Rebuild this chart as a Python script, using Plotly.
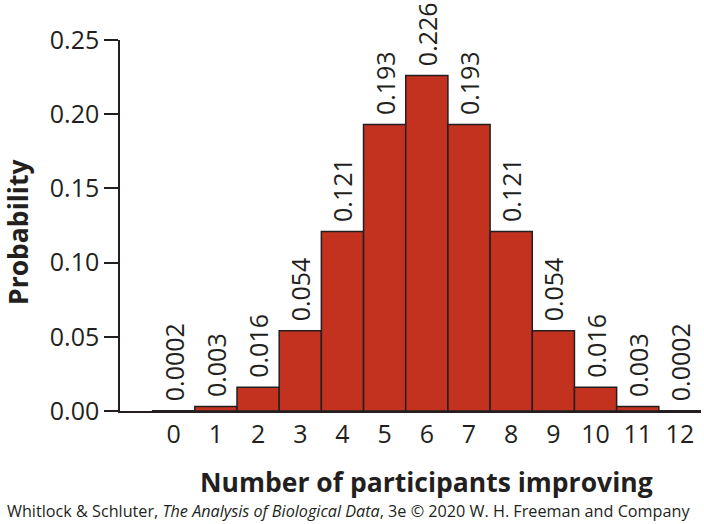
import plotly.graph_objects as go

categories = list(range(13))
probabilities = [0.0002, 0.003, 0.016, 0.054, 0.121, 0.193, 0.226, 0.193, 0.121, 0.054, 0.016, 0.003, 0.0002]
bar_labels = ["0.0002", "0.003", "0.016", "0.054", "0.121", "0.193", "0.226", "0.193", "0.121", "0.054", "0.016", "0.003", "0.0002"]
y_ticks = [0.0, 0.05, 0.10, 0.15, 0.20, 0.25]
y_tick_labels = ["0.00", "0.05", "0.10", "0.15", "0.20", "0.25"]

FONT = "Open Sans"
INK = "#231F20"

fig = go.Figure(go.Bar(
    x=categories, y=probabilities, width=1.0,
    marker=dict(color="#C3321F", line=dict(color=INK, width=1.5)),
    text=["\u00a0" + s for s in bar_labels], textposition="outside", textangle=-90,
    textfont=dict(family=FONT, size=25, color=INK),
    constraintext="none", cliponaxis=False,
))

fig.update_layout(
    width=704, height=524,
    margin=dict(l=120, r=3, t=40, b=113),
    paper_bgcolor="white", plot_bgcolor="white",
    showlegend=False,
    font=dict(family=FONT, color=INK),
    xaxis=dict(range=[-1.274, 12.5], showline=True, linecolor=INK, linewidth=1.5,
               tickmode="array", tickvals=categories, ticktext=[str(c) for c in categories],
               ticks="", showgrid=False, zeroline=False,
               tickfont=dict(family=FONT, size=25, color=INK)),
    yaxis=dict(range=[0, 0.25], showline=True, linecolor=INK, linewidth=1.5,
               tickmode="array", tickvals=y_ticks, ticktext=y_tick_labels,
               ticks="outside", ticklen=14, tickwidth=1.5, tickcolor=INK,
               showgrid=False, zeroline=False,
               tickfont=dict(family=FONT, size=25, color=INK)),
    annotations=[
        dict(text="<b>Number of participants improving</b>", xref="paper", yref="paper",
             x=(426 - 120) / 581, y=-(482 - 411) / 371, xanchor="center", yanchor="middle",
             showarrow=False, font=dict(family=FONT, size=26.5, color=INK)),
        dict(text="<b>Probability</b>", xref="paper", yref="paper",
             x=-(120 - 18) / 581, y=(411 - 232) / 371, xanchor="center", yanchor="middle",
             textangle=-90, showarrow=False, font=dict(family=FONT, size=26.5, color=INK)),
        dict(text="Whitlock &amp; Schluter, <i>The Analysis of Biological Data</i>, 3e © 2020 W. H. Freeman and Company",
             xref="paper", yref="paper", x=-(120 - 5) / 581, y=-(511 - 411) / 371,
             xanchor="left", yanchor="middle", showarrow=False,
             font=dict(family=FONT, size=16.2, color=INK)),
    ],
)

fig.write_html("out.html")
